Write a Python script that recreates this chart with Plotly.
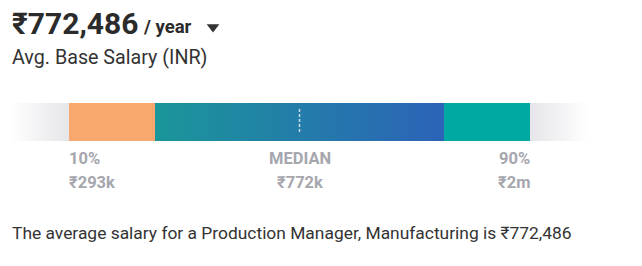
import plotly.graph_objects as go

# ---- data ----
avg_salary_text = "₹772,486"
period_text = "/ year"
subtitle_text = "Avg. Base Salary (INR)"
percentile_labels = ["10%", "MEDIAN", "90%"]
percentile_values = ["₹293k", "₹772k", "₹2m"]
segment_share = [1.0, 3.36, 1.0]          # relative widths of the three bar segments
summary_text = "The average salary for a Production Manager, Manufacturing is ₹772,486"

# ---- layout constants (pixels) ----
W, H = 642, 266
bar_left, bar_right = 69, 530
bar_top, bar_bot = 103, 141
fade_len = 59
FONT = "Roboto, 'Noto Sans', sans-serif"
GREY = "#a6a6ae"

scale = (bar_right - bar_left) / sum(segment_share)
edges = [bar_left]
for s in segment_share:
    edges.append(edges[-1] + s * scale)
median_x = (edges[1] + edges[2]) / 2

fig = go.Figure()

def rect(x0, x1, **kw):
    return go.Scatter(x=[x0, x1, x1, x0, x0], y=[bar_top, bar_top, bar_bot, bar_bot, bar_top],
                      mode="lines", line=dict(width=0), fill="toself", hoverinfo="skip",
                      showlegend=False, **kw)

# grey fades
fig.add_trace(rect(edges[0] - fade_len, edges[0],
                   fillgradient=dict(type="horizontal",
                                     colorscale=[[0, "rgba(230,230,234,0)"], [1, "rgb(230,230,234)"]])))
fig.add_trace(rect(edges[3], edges[3] + fade_len,
                   fillgradient=dict(type="horizontal",
                                     colorscale=[[0, "rgb(230,230,234)"], [1, "rgba(230,230,234,0)"]])))
# segments
fig.add_trace(rect(edges[0], edges[1], fillcolor="#f8a76e"))
fig.add_trace(rect(edges[1], edges[2],
                   fillgradient=dict(type="horizontal",
                                     colorscale=[[0, "#1a969a"], [1, "#2c63b8"]])))
fig.add_trace(rect(edges[2], edges[3], fillcolor="#00aaa2"))

# median dashed line
fig.add_shape(type="line", x0=median_x, x1=median_x, y0=109, y1=134,
              line=dict(color="rgba(230,240,250,0.85)", width=1.5, dash="3px,2px"))

# caret
fig.add_trace(go.Scatter(x=[213], y=[27], mode="markers",
                         marker=dict(symbol="triangle-down", size=11, color="#333333"),
                         hoverinfo="skip", showlegend=False))

ann = []
ann.append(dict(x=10, y=23, text=f"<b>{avg_salary_text}</b>", xanchor="left", yanchor="middle",
                font=dict(family=FONT, size=30, color="#2b2b2b")))
ann.append(dict(x=141, y=27, text=f"<b>{period_text}</b>", xanchor="left", yanchor="middle",
                font=dict(family=FONT, size=18.5, color="#2b2b2b")))
ann.append(dict(x=10, y=57, text=subtitle_text, xanchor="left", yanchor="middle",
                font=dict(family=FONT, size=19.7, color="#333333")))

label_x = [edges[0], median_x, edges[3]]
anchors = ["left", "center", "right"]
shifts = [-2, 0, 2]
for lx, anc, sh, lab, val in zip(label_x, anchors, shifts, percentile_labels, percentile_values):
    ann.append(dict(x=lx, y=158.5, text=f"<b>{lab}</b>", xanchor=anc, yanchor="middle", xshift=sh,
                    font=dict(family=FONT, size=16.5, color=GREY)))
    ann.append(dict(x=lx, y=182.5, text=f"<b>{val}</b>", xanchor=anc, yanchor="middle", xshift=sh,
                    font=dict(family=FONT, size=16.5, color=GREY)))

ann.append(dict(x=10, y=232.5, text=summary_text, xanchor="left", yanchor="middle",
                font=dict(family=FONT, size=17.4, color="#333333")))

for a in ann:
    a.update(xref="x", yref="y", showarrow=False)

fig.update_layout(
    width=W, height=H, margin=dict(l=0, r=0, t=0, b=0),
    paper_bgcolor="white", plot_bgcolor="white",
    xaxis=dict(range=[0, W], visible=False, fixedrange=True),
    yaxis=dict(range=[H, 0], visible=False, fixedrange=True),
    annotations=ann, showlegend=False,
)

fig.write_html("out.html", config=dict(displayModeBar=False))
